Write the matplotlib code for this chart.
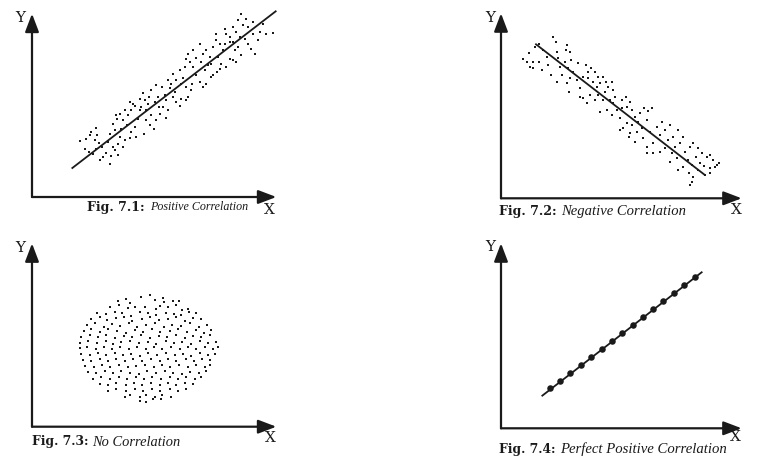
import matplotlib
matplotlib.use("Agg")
import matplotlib.pyplot as plt

# ---------------- data (arbitrary units) ----------------
# Fig 7.1 positive correlation cloud
pos_x = [143,161,178,193,175,196,188,200,171,183,203,193,210,221,233,238,248,258,243,228,
         258,273,278,263,233,248,243,255,263,278,253,273,288,298,285,298,308,313,295,318,
         323,308,328,338,323,303,293,348,333,351,343,358,353,335,365,373,383,381,368,378,
         398,391,413,403,408,423,433,443,448,428,418,433,423,443,453,463,468,478,463,448,
         458,475,463,483,493,481,503,513,523,493,513,508,528,533,523,543,551,553,563,573,
         558,543,555,568,583,593,603,608,593,583,603,613,623,618,628,643,648,638,648,663,
         658,668,678,683,693,703,723,663,633,603,618,628,593,578,373,358,408,468,483,503,
         518,538,578,158,213,268,343,393,403,538,563,611]
pos_y = [168,175,195,207,185,185,170,162,135,130,110,145,150,132,98,122,140,125,150,165,
         160,150,170,180,190,200,220,235,250,260,245,232,245,260,215,195,210,180,178,235,
         260,272,270,290,295,280,285,280,312,300,230,245,215,190,205,230,250,270,285,300,
         305,330,328,290,260,300,285,272,295,315,340,350,370,380,358,330,300,320,290,340,
         390,405,415,390,365,340,345,330,340,418,430,405,395,420,440,450,470,490,460,440,
         420,365,375,400,390,415,410,440,465,490,510,495,480,530,550,535,510,475,460,490,
         445,430,470,495,520,490,492,525,515,465,450,425,480,505,335,320,350,430,440,460,
         380,400,460,145,120,205,260,270,238,360,385,405]
pos_line_x = [121, 731]
pos_line_y = [87, 557]

# Fig 7.2 negative correlation cloud
neg_x = [67,85,97,102,115,115,127,137,122,142,149,157,165,169,172,177,182,167,195,199,
         207,192,202,209,217,227,207,199,205,237,232,255,262,247,262,269,282,277,292,287,
         297,307,315,322,312,332,337,342,327,307,292,282,247,267,257,237,337,317,297,332,
         347,362,375,387,377,392,362,357,377,392,402,417,429,442,452,437,412,422,407,387,
         367,357,385,402,427,437,457,447,467,482,477,492,507,502,492,477,457,437,517,532,
         547,537,522,512,527,507,532,547,562,552,567,577,592,602,617,627,637,655,642,627,
         609,597,585,572,565,577,572,567,592,612,627,647,97,77,87]
neg_y = [417,437,410,455,462,410,445,425,385,400,370,485,470,440,420,395,370,350,445,460,
         440,410,390,415,380,355,360,345,320,330,405,400,380,365,360,390,380,350,363,335,
         345,365,350,333,320,350,325,305,295,295,310,295,300,310,285,305,285,265,260,250,
         265,295,305,290,275,265,270,240,225,220,245,255,270,263,270,235,230,210,200,195,
         210,205,183,170,180,155,165,200,215,230,190,205,220,175,150,140,135,135,185,205,
         185,165,155,135,120,110,85,95,115,140,155,165,150,135,125,130,115,107,95,90,
         98,105,125,100,75,65,50,40,85,70,75,100,390,410,395]
neg_line_x = [105, 609]
neg_line_y = [462, 72]

# Fig 7.3 no correlation cloud
none_x = [328,353,
          258,283,295,368,393,395,423,441,
          233,261,288,308,338,371,383,408,431,451,468,
          195,221,248,271,298,323,348,373,403,425,448,471,491,
          178,203,225,253,275,301,331,355,381,408,433,458,483,508,
          165,188,215,241,265,291,315,343,368,395,421,448,473,501,525,
          155,178,203,228,255,281,308,333,361,385,413,438,465,491,515,538,
          148,173,198,223,248,275,301,328,353,381,405,433,458,483,508,535,
          145,168,195,221,243,268,295,321,348,373,401,425,451,478,503,528,551,
          143,165,191,215,241,265,291,315,341,365,391,418,443,468,493,518,543,558,
          148,173,198,223,248,273,298,323,348,375,401,428,453,478,503,528,548,
          153,178,203,228,253,278,303,331,358,383,408,433,461,485,511,535,
          158,185,211,235,261,288,313,338,365,391,415,441,468,493,518,535,
          168,193,218,243,268,295,321,345,371,398,423,451,475,501,523,
          183,208,233,261,285,311,335,361,388,413,438,463,488,508,
          203,228,253,281,305,331,358,383,408,433,458,483,
          228,253,281,308,333,361,385,413,438,463,
          278,295,323,343,368,391,418,
          323,341,363,388]
none_y = [390,395,
          378,382,370,380,387,375,377,378,
          360,365,355,360,358,352,362,360,365,350,352,
          342,338,345,340,332,345,340,335,342,338,335,343,340,
          322,328,320,325,328,318,322,328,320,324,328,318,325,322,
          305,310,300,307,302,310,298,305,310,300,306,302,310,300,306,
          288,292,285,294,288,282,290,285,292,284,288,294,285,290,282,290,
          270,274,268,275,265,272,268,274,265,272,268,275,265,272,268,274,
          252,256,250,257,248,254,258,250,254,248,256,250,254,248,256,252,254,
          235,238,232,240,234,238,232,238,234,240,232,238,234,240,232,238,234,238,
          218,214,220,214,220,215,218,212,220,215,220,214,218,212,220,215,218,
          200,198,202,196,202,198,204,196,202,198,202,196,202,198,204,200,
          182,178,184,180,186,178,182,186,180,184,178,184,180,186,180,184,
          164,160,166,160,166,162,158,166,160,166,162,158,164,160,166,
          144,148,142,150,144,148,142,150,144,148,142,148,144,150,
          128,124,130,125,130,124,130,126,130,124,130,128,
          108,112,106,112,108,112,106,112,108,114,
          90,94,88,96,90,94,90,
          78,74,82,82]

# Fig 7.4 perfect positive correlation
perf_x = [147,177,207,239,270,302,333,364,395,426,456,487,518,549,582]
perf_y = [120,143,167,191,215,239,263,287,310,334,359,383,407,431,453]
perf_line_x = [124, 602]
perf_line_y = [98, 468]

captions = [("Fig. 7.1:", "Positive Correlation"),
            ("Fig. 7.2:", "Negative Correlation"),
            ("Fig. 7.3:", "No Correlation"),
            ("Fig. 7.4:", "Perfect Positive Correlation")]

# ---------------- figure ----------------
W, H = 762, 462
fig = plt.figure(figsize=(W / 100, H / 100), dpi=100)
fig.patch.set_facecolor("white")
renderer = fig.canvas.get_renderer()

BOLD_FONT = ["DejaVu Serif"]
ITAL_FONT = ["Liberation Serif", "DejaVu Serif"]
INK = "#1a1a1a"


def make_panel(ox, oy, xmax, ymax):
    # ox, oy: figure pixel position of the axis origin (from top-left)
    wpx, hpx = xmax / 3.0, ymax / 3.0
    ax = fig.add_axes([ox / W, (H - oy) / H, wpx / W, hpx / H])
    ax.set_xlim(0, xmax)
    ax.set_ylim(0, ymax)
    ax.axis("off")
    ap = dict(arrowstyle="-|>,head_length=1.0,head_width=0.38", color=INK,
              lw=1.6, shrinkA=0, shrinkB=0, mutation_scale=11)
    ax.annotate("", xy=(1, 0), xytext=(0, 0), xycoords="axes fraction",
                textcoords="axes fraction", arrowprops=ap, annotation_clip=False)
    ax.annotate("", xy=(0, 1), xytext=(0, 0), xycoords="axes fraction",
                textcoords="axes fraction", arrowprops=ap, annotation_clip=False)
    return ax


def fitted_text(x0, x1, y, s, size, **kw):
    t = fig.text(x0 / W, 1 - y / H, s, fontsize=size, va="center", ha="left",
                 color=INK, **kw)
    w = t.get_window_extent(renderer).width
    t.set_fontsize(size * (x1 - x0) / w)
    return t


def caption(y, bold, bx0, bx1, ital, ix0, ix1, size):
    fitted_text(bx0, bx1, y, bold, size, fontweight="bold", family=BOLD_FONT)
    fitted_text(ix0, ix1, y, ital, size, fontstyle="italic", family=ITAL_FONT)


def label(x, y, s):
    fig.text(x / W, 1 - y / H, s, fontsize=11, family=BOLD_FONT, ha="center",
             va="center", color=INK)


dot_kw = dict(marker="s", s=2.4, color=INK, linewidths=0, clip_on=False)

# Panel 1
ax1 = make_panel(32, 197, 733, 550)
ax1.scatter(pos_x, pos_y, **dot_kw)
ax1.plot(pos_line_x, pos_line_y, color=INK, lw=1.3, clip_on=False)
label(20, 18, "Y")
label(269, 210, "X")
caption(207, captions[0][0], 87, 145, captions[0][1], 150, 248, 9.5)

# Panel 2
ax2 = make_panel(501, 198.3, 722, 555)
ax2.scatter(neg_x, neg_y, **dot_kw)
ax2.plot(neg_line_x, neg_line_y, color=INK, lw=1.3, clip_on=False)
label(490, 18, "Y")
label(736, 210, "X")
caption(211, captions[1][0], 499, 557, captions[1][1], 561, 685, 9)

# Panel 3
ax3 = make_panel(32, 426.7, 733, 550)
ax3.scatter(none_x, none_y, **dot_kw)
label(20, 248, "Y")
label(270, 438, "X")
caption(442, captions[2][0], 32, 89, captions[2][1], 92, 180, 9)

# Panel 4
ax4 = make_panel(501, 428.3, 722, 555)
ax4.plot(perf_line_x, perf_line_y, color=INK, lw=1.3, clip_on=False)
ax4.scatter(perf_x, perf_y, s=22, color=INK, linewidths=0, clip_on=False, zorder=3)
label(490, 247, "Y")
label(735, 437, "X")
caption(449, captions[3][0], 499, 556, captions[3][1], 560, 727, 9)

fig.savefig("out.png", dpi=100, facecolor="white")
